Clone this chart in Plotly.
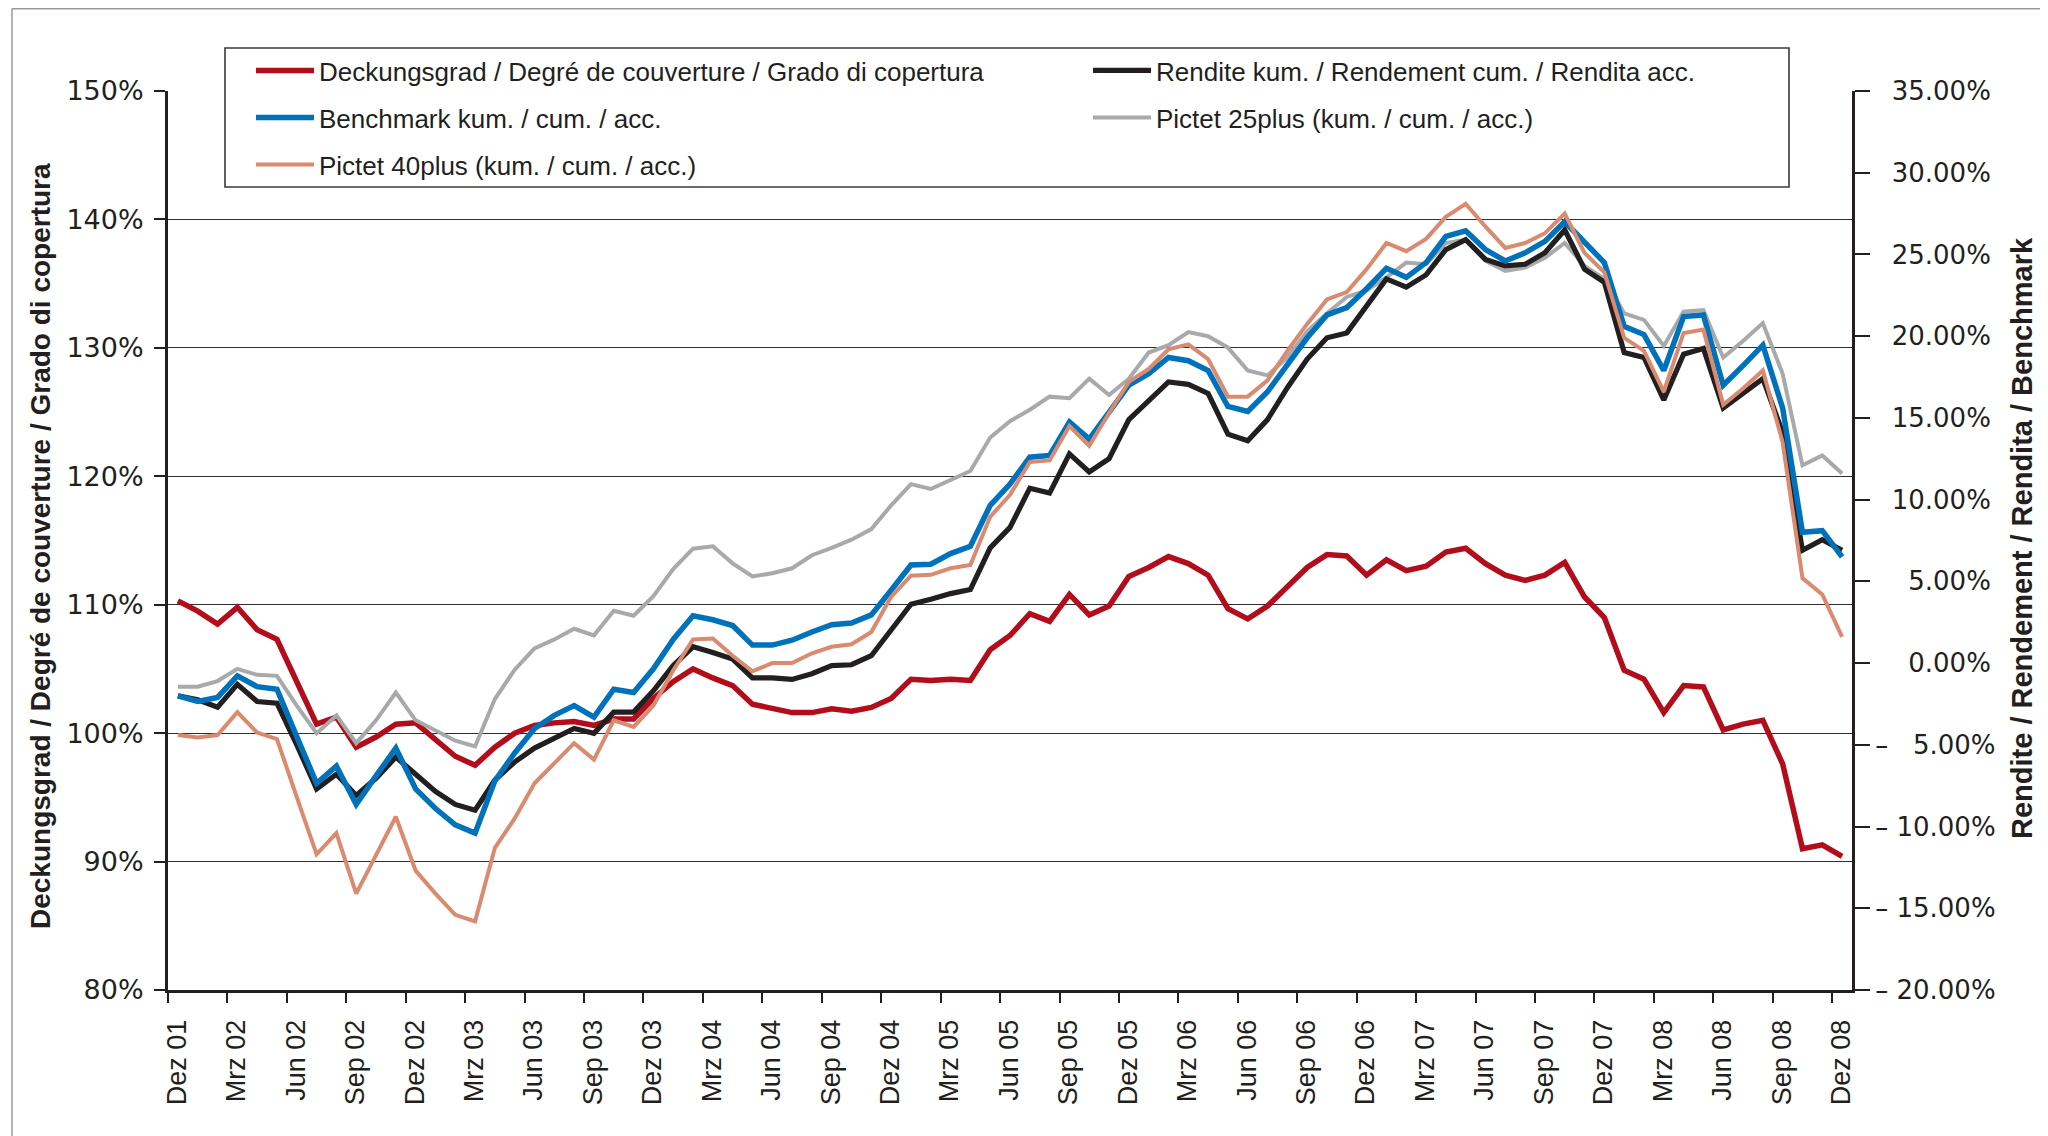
import plotly.graph_objects as go

# ---------------- data ----------------
month_names = ["Jan", "Feb", "Mrz", "Apr", "Mai", "Jun", "Jul", "Aug", "Sep", "Okt", "Nov", "Dez"]
months = ["Dez 01"] + [f"{m} {y:02d}" for y in range(2, 9) for m in month_names]

deckungsgrad = [110.3, 109.5, 108.5, 109.8, 108.05, 107.3, 104.0, 100.7, 101.25, 98.9,
                99.7, 100.7, 100.8, 99.5, 98.2, 97.5, 98.9, 100.0, 100.6, 100.8,
                100.9, 100.6, 101.1, 101.1, 102.7, 104.0, 105.0, 104.3, 103.7, 102.25,
                101.9, 101.6, 101.6, 101.9, 101.7, 102.0, 102.7, 104.2, 104.1, 104.2,
                104.1, 106.5, 107.6, 109.3, 108.7, 110.8, 109.2, 109.9, 112.2, 112.9,
                113.75, 113.2, 112.3, 109.7, 108.9, 109.9, 111.4, 112.9, 113.9, 113.8,
                112.3, 113.5, 112.65, 113.0, 114.1, 114.4, 113.2, 112.3, 111.9, 112.3,
                113.3, 110.6, 109.0, 104.9, 104.2, 101.6, 103.7, 103.6, 100.25, 100.7,
                101.0, 97.6, 91.0, 91.3, 90.4]

rendite = [-2.0, -2.25, -2.7, -1.3, -2.35, -2.45, -5.0, -7.7, -6.8, -8.1,
           -7.05, -5.75, -6.8, -7.85, -8.65, -9.0, -7.15, -6.05, -5.2, -4.6,
           -4.0, -4.3, -3.0, -3.0, -1.7, -0.15, 1.0, 0.65, 0.25, -0.9,
           -0.9, -1.0, -0.65, -0.15, -0.1, 0.45, 2.0, 3.6, 3.9, 4.25,
           4.5, 7.05, 8.3, 10.7, 10.4, 12.8, 11.7, 12.5, 14.9, 16.1,
           17.2, 17.05, 16.5, 14.0, 13.6, 14.9, 16.85, 18.6, 19.9, 20.2,
           21.9, 23.5, 23.0, 23.75, 25.3, 25.9, 24.7, 24.3, 24.4, 25.1,
           26.5, 24.1, 23.3, 19.0, 18.7, 16.1, 18.9, 19.25, 15.6, 16.5,
           17.4, 14.1, 6.9, 7.55, 6.9]

benchmark = [-2.0, -2.35, -2.1, -0.78, -1.44, -1.6, -4.5, -7.35, -6.3, -8.65,
             -6.9, -5.2, -7.7, -8.9, -9.9, -10.4, -7.2, -5.5, -4.0, -3.2,
             -2.6, -3.3, -1.6, -1.8, -0.35, 1.45, 2.9, 2.65, 2.3, 1.1,
             1.1, 1.4, 1.9, 2.35, 2.45, 2.95, 4.45, 6.0, 6.05, 6.7,
             7.15, 9.65, 10.95, 12.6, 12.7, 14.75, 13.7, 15.3, 17.0, 17.7,
             18.7, 18.5, 17.9, 15.7, 15.4, 16.6, 18.2, 19.9, 21.3, 21.75,
             22.9, 24.15, 23.6, 24.5, 26.1, 26.45, 25.3, 24.6, 25.1, 25.8,
             27.0, 25.7, 24.5, 20.6, 20.1, 17.9, 21.2, 21.3, 17.0, 18.2,
             19.45, 15.6, 8.0, 8.1, 6.5]

pictet25 = [-1.44, -1.44, -1.1, -0.35, -0.72, -0.78, -2.6, -4.3, -3.2, -4.9,
            -3.5, -1.8, -3.5, -4.1, -4.75, -5.1, -2.2, -0.4, 0.9, 1.45,
            2.1, 1.7, 3.2, 2.9, 4.1, 5.75, 7.0, 7.15, 6.1, 5.3,
            5.5, 5.8, 6.6, 7.05, 7.55, 8.2, 9.65, 10.95, 10.65, 11.2,
            11.75, 13.8, 14.8, 15.5, 16.3, 16.2, 17.4, 16.4, 17.4, 19.0,
            19.45, 20.25, 20.0, 19.3, 17.9, 17.6, 18.7, 20.3, 21.4, 22.4,
            22.8, 23.6, 24.5, 24.4, 25.7, 25.9, 24.6, 24.0, 24.2, 24.8,
            25.7, 24.3, 23.5, 21.4, 21.0, 19.4, 21.5, 21.6, 18.7, 19.7,
            20.8, 17.7, 12.1, 12.7, 11.6]

pictet40 = [-4.4, -4.55, -4.4, -3.0, -4.25, -4.65, -8.2, -11.7, -10.4, -14.1,
            -11.75, -9.4, -12.7, -14.1, -15.4, -15.8, -11.3, -9.5, -7.35, -6.1,
            -4.9, -5.9, -3.5, -3.9, -2.6, -0.45, 1.45, 1.5, 0.45, -0.5,
            0.0, 0.0, 0.6, 1.0, 1.15, 1.9, 4.05, 5.35, 5.4, 5.8,
            6.0, 8.95, 10.3, 12.3, 12.4, 14.5, 13.3, 15.3, 17.2, 18.0,
            19.2, 19.5, 18.6, 16.3, 16.3, 17.3, 19.1, 20.75, 22.25, 22.7,
            24.1, 25.7, 25.2, 25.95, 27.3, 28.1, 26.7, 25.4, 25.7, 26.3,
            27.5, 25.1, 23.9, 19.9, 19.1, 16.6, 20.2, 20.4, 15.8, 16.8,
            17.9, 13.5, 5.2, 4.2, 1.6]

left_ticks = [80, 90, 100, 110, 120, 130, 140, 150]
right_ticks = [-20, -15, -10, -5, 0, 5, 10, 15, 20, 25, 30, 35]

names = {
    "deck": "Deckungsgrad / Degré de couverture / Grado di copertura",
    "rend": "Rendite kum. / Rendement cum. / Rendita acc.",
    "bench": "Benchmark kum. / cum. / acc.",
    "p25": "Pictet 25plus (kum. / cum. / acc.)",
    "p40": "Pictet 40plus (kum. / cum. / acc.)",
}

# ---------------- styling ----------------
RED = "#b30d1c"
BLUE = "#0072bc"
BLACK = "#231f20"
GREY = "#a8a9ab"
SALMON = "#d98a6f"
AXIS = "#231f20"
NARROW = "Liberation Sans Narrow, Arial Narrow, Liberation Sans, Arial, sans-serif"
WIDE = "DejaVu Sans, Verdana, sans-serif"

OFF = 8  # page body margin
W, H = 2048 - OFF, 1136 - OFF
# plot area in screen pixels: x 168..1852, y 91..990
L, T = 168 - OFF, 91 - OFF
R, B = W - (1852 - OFF), H - (990 - OFF)
PW, PH = W - L - R, H - T - B


def px_x(sx):
    return (sx - OFF - L) / PW


def px_y(sy):
    return (H - B - (sy - OFF)) / PH


x = list(range(len(months)))

fig = go.Figure()
# drawing order: grey, black, blue, salmon, red (red on top)
fig.add_trace(go.Scatter(x=x, y=pictet25, name=names["p25"], yaxis="y2", mode="lines",
                         line=dict(color=GREY, width=4), legend="legend2", legendrank=4,
                         customdata=months))
fig.add_trace(go.Scatter(x=x, y=rendite, name=names["rend"], yaxis="y2", mode="lines",
                         line=dict(color=BLACK, width=5.2), legend="legend", legendrank=2,
                         customdata=months))
fig.add_trace(go.Scatter(x=x, y=benchmark, name=names["bench"], yaxis="y2", mode="lines",
                         line=dict(color=BLUE, width=5.5), legend="legend2", legendrank=3,
                         customdata=months))
fig.add_trace(go.Scatter(x=x, y=pictet40, name=names["p40"], yaxis="y2", mode="lines",
                         line=dict(color=SALMON, width=4), legend="legend3", legendrank=5,
                         customdata=months))
fig.add_trace(go.Scatter(x=x, y=deckungsgrad, name=names["deck"], yaxis="y", mode="lines",
                         line=dict(color=RED, width=5.5), legend="legend", legendrank=1,
                         customdata=months))


def right_label(v):
    if v < 0:
        s = f"{abs(v):.2f}%"
        pad = "\u00a0\u00a0" if abs(v) < 10 else ""
        return "\u2013\u00a0" + pad + s
    s = f"{v:.2f}%"
    pad = "\u00a0\u00a0" if v < 10 else ""
    return "\u00a0\u00a0" + pad + s


tick_idx = list(range(0, len(months), 3))

LEG_X = 251
leg_common = dict(
    orientation="h", xanchor="left", yanchor="middle",
    bgcolor="rgba(0,0,0,0)", borderwidth=0,
    font=dict(family=NARROW, size=26, color=AXIS),
    entrywidth=764, entrywidthmode="pixels",
    itemwidth=58, traceorder="normal",
)

fig.update_layout(
    width=W, height=H, autosize=False,
    margin=dict(l=L, r=R, t=T, b=B, pad=0),
    paper_bgcolor="white", plot_bgcolor="white",
    showlegend=True,
    xaxis=dict(
        range=[-0.5, len(months) - 0.5],
        tickmode="array",
        tickvals=[i - 0.5 for i in tick_idx],
        ticktext=[months[i] for i in tick_idx],
        tickangle=-90,
        ticks="outside", ticklen=10, tickwidth=1.5, tickcolor=AXIS,
        showline=True, linecolor=AXIS, linewidth=3,
        showgrid=False, zeroline=False,
        ticklabelstandoff=6,
        ticklabelshift=9,
        tickfont=dict(family=NARROW, size=27, color=AXIS),
    ),
    yaxis=dict(
        range=[80, 150],
        tickmode="array",
        tickvals=left_ticks,
        ticktext=[f"{v}%" for v in left_ticks],
        ticks="outside", ticklen=11, tickwidth=1.5, tickcolor=AXIS,
        showline=True, linecolor=AXIS, linewidth=3,
        showgrid=True, gridcolor="#2e2e2e", gridwidth=1.3,
        zeroline=False,
        ticklabelstandoff=5,
        tickfont=dict(family=WIDE, size=27, color=AXIS),
    ),
    yaxis2=dict(
        range=[-20, 35],
        overlaying="y", side="right",
        tickmode="array",
        tickvals=right_ticks,
        ticktext=[right_label(v) for v in right_ticks],
        ticks="outside", ticklen=15, tickwidth=1.5, tickcolor=AXIS,
        showline=True, linecolor=AXIS, linewidth=3,
        showgrid=False, zeroline=False,
        tickfont=dict(family=WIDE, size=26, color=AXIS),
    ),
    legend=dict(x=px_x(LEG_X), y=px_y(70.5), **leg_common),
    legend2=dict(x=px_x(LEG_X), y=px_y(117.5), **leg_common),
    legend3=dict(x=px_x(LEG_X), y=px_y(164.5), **leg_common),
    annotations=[
        dict(text="<b>Deckungsgrad / Degré de couverture / Grado di copertura</b>",
             xref="paper", yref="paper", x=px_x(40), y=px_y(546),
             xanchor="center", yanchor="middle", textangle=-90, showarrow=False,
             font=dict(family=NARROW, size=28, color=AXIS)),
        dict(text="<b>Rendite / Rendement / Rendita / Benchmark</b>",
             xref="paper", yref="paper", x=px_x(2022), y=px_y(538),
             xanchor="center", yanchor="middle", textangle=-90, showarrow=False,
             font=dict(family=NARROW, size=29, color=AXIS)),
    ],
    shapes=[
        # legend frame (white box above plot content)
        dict(type="rect", xref="paper", yref="paper", layer="above",
             x0=px_x(225), x1=px_x(1789), y0=px_y(187), y1=px_y(48),
             fillcolor="white", line=dict(color="#3a3a3a", width=1.6)),
        # outer page frame
        dict(type="line", xref="paper", yref="paper",
             x0=px_x(12), x1=px_x(12), y0=px_y(1136 + 5), y1=px_y(OFF + 0.8),
             line=dict(color="#9a9a9a", width=1.5)),
        dict(type="line", xref="paper", yref="paper",
             x0=px_x(12), x1=px_x(2048 + 5), y0=px_y(OFF + 0.8), y1=px_y(OFF + 0.8),
             line=dict(color="#9a9a9a", width=1.5)),
    ],
)

fig.write_html("out.html")
